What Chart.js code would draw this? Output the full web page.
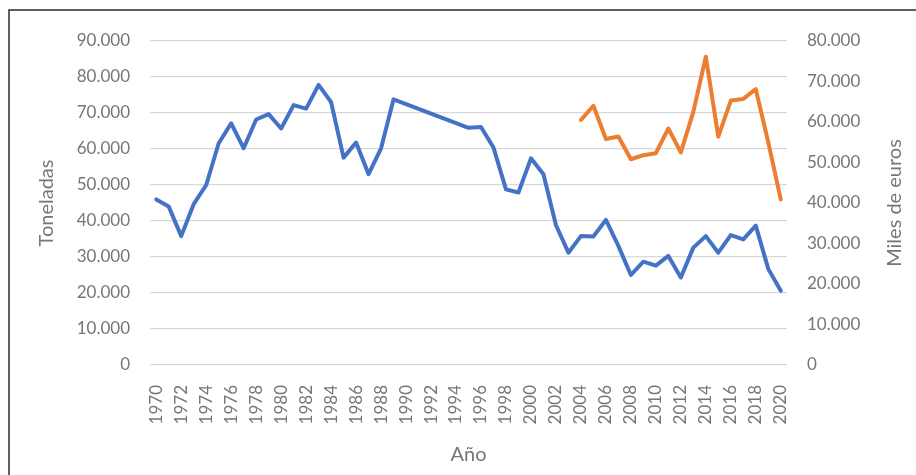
<!DOCTYPE html>
<html>
<head>
<meta charset="utf-8">
<script src="https://cdn.jsdelivr.net/npm/chart.js@4/dist/chart.umd.min.js"></script>
<style>
  html, body { margin: 0; padding: 0; background: #ffffff; }
  canvas { display: block; }
</style>
</head>
<body>
<canvas id="c" width="916" height="475"></canvas>
<script>
const years = [];
for (let y = 1970; y <= 2020; y++) years.push(String(y));

// Toneladas (left axis); 1990-1994 missing in the source
const toneladas = [
  46000, 44000, 35800, 44700, 50000, 61600, 67100, 60200, 68200, 69700,
  65700, 72200, 71200, 77800, 73000, 57600, 61800, 53000, 60200, 73800,
  null, null, null, null, null, 65900, 66100, 60400, 48800, 47900,
  57400, 53000, 38900, 31200, 35800, 35700, 40300, 33100, 25000, 28700,
  27600, 30300, 24300, 32600, 35800, 31200, 36100, 34900, 38700, 26700,
  20600
];

// Miles de euros (right axis), 2004-2020
const milesEuros = [
  null, null, null, null, null, null, null, null, null, null,
  null, null, null, null, null, null, null, null, null, null,
  null, null, null, null, null, null, null, null, null, null,
  null, null, null, null, 60500, 64000, 55800, 56400, 50800, 51800,
  52300, 58400, 52500, 62500, 76100, 56400, 65300, 65700, 68100, 55000,
  40900
];

const leftTitle = 'Toneladas';
const rightTitle = 'Miles de euros';
const xTitle = 'Año';

const FONT = 'Lato, "Open Sans", sans-serif';
const GRAY = '#767676';

function fmt(v) {
  return String(v).replace(/\B(?=(\d{3})+(?!\d))/g, '.');
}

const framePlugin = {
  id: 'frame',
  beforeDraw(chart) {
    const ctx = chart.ctx;
    ctx.save();
    ctx.fillStyle = '#ffffff';
    ctx.fillRect(0, 0, chart.width, chart.height);
    ctx.strokeStyle = '#2b2b2b';
    ctx.lineWidth = 1.5;
    ctx.beginPath();
    ctx.moveTo(9, chart.height + 5);
    ctx.lineTo(9, 10);
    ctx.lineTo(chart.width + 5, 10);
    ctx.stroke();
    ctx.restore();
  },
  afterDraw(chart) {
    const ctx = chart.ctx;
    const area = chart.chartArea;
    ctx.save();
    ctx.translate(895, (area.top + area.bottom) / 2);
    ctx.rotate(-Math.PI / 2);
    ctx.textAlign = 'center';
    ctx.textBaseline = 'middle';
    ctx.font = '20px ' + FONT;
    ctx.fillStyle = GRAY;
    ctx.fillText(rightTitle, 0, 0);
    ctx.restore();
  }
};

new Chart(document.getElementById('c'), {
  type: 'line',
  data: {
    labels: years,
    datasets: [
      {
        label: leftTitle,
        data: toneladas,
        yAxisID: 'y',
        borderColor: '#4472C4',
        backgroundColor: '#4472C4',
        borderWidth: 4,
        pointRadius: 0,
        tension: 0,
        spanGaps: true,
        borderJoinStyle: 'round',
        borderCapStyle: 'round'
      },
      {
        label: rightTitle,
        data: milesEuros,
        yAxisID: 'y1',
        borderColor: '#ED7D31',
        backgroundColor: '#ED7D31',
        borderWidth: 4,
        pointRadius: 0,
        tension: 0,
        spanGaps: true,
        borderJoinStyle: 'round',
        borderCapStyle: 'round'
      }
    ]
  },
  options: {
    responsive: false,
    animation: false,
    devicePixelRatio: 1,
    layout: { padding: { top: 41, left: 0, right: 0, bottom: 0 } },
    plugins: {
      legend: { display: false },
      tooltip: { enabled: false }
    },
    scales: {
      x: {
        type: 'category',
        offset: true,
        grid: { display: false, drawTicks: false },
        border: { display: false },
        ticks: {
          autoSkip: false,
          maxRotation: 90,
          minRotation: 90,
          padding: 20,
          color: GRAY,
          font: { family: FONT, size: 17 },
          callback: function (val, idx) {
            return idx % 2 === 0 ? this.getLabelForValue(val) : '';
          }
        },
        title: {
          display: true,
          text: xTitle,
          color: GRAY,
          font: { family: FONT, size: 20 },
          padding: { top: 0, bottom: 8 }
        },
        afterFit(scale) { scale.height = 110; }
      },
      y: {
        position: 'left',
        min: 0,
        max: 90000,
        grid: { color: '#d9d9d9', lineWidth: 1.3, drawTicks: false },
        border: { display: false },
        ticks: {
          stepSize: 10000,
          padding: 20,
          color: GRAY,
          font: { family: FONT, size: 17 },
          callback: (v) => fmt(v)
        },
        title: {
          display: true,
          text: leftTitle,
          color: GRAY,
          font: { family: FONT, size: 20 },
          padding: { top: 35, bottom: 0 }
        },
        afterFit(scale) { scale.width = 150; }
      },
      y1: {
        position: 'right',
        min: 0,
        max: 80000,
        grid: { display: false, drawTicks: false },
        border: { display: false },
        ticks: {
          stepSize: 10000,
          padding: 20,
          color: GRAY,
          font: { family: FONT, size: 17 },
          callback: (v) => fmt(v)
        },
        afterFit(scale) { scale.width = 129; }
      }
    }
  },
  plugins: [framePlugin]
});
</script>
</body>
</html>
